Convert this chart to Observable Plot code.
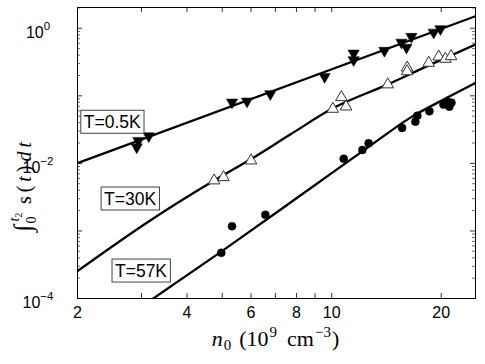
<!DOCTYPE html>
<html>
<head>
<meta charset="utf-8">
<script src="https://cdn.jsdelivr.net/npm/d3@7"></script>
<script src="https://cdn.jsdelivr.net/npm/@observablehq/plot@0.6"></script>
<style>
  html, body { margin: 0; padding: 0; background: #fff; }
  svg { display: block; }
</style>
</head>
<body>
<script>
// ---- data ----
const n0_05K = [2.91, 2.94, 3.14, 5.32, 5.85, 6.78, 9.56, 11.49, 11.49, 13.96, 15.55, 16.05, 16.56, 19.07, 19.9];
const s_05K  = [0.0174, 0.0217, 0.0254, 0.0802, 0.083, 0.1067, 0.192, 0.426, 0.340, 0.467, 0.618, 0.521, 0.752, 0.869, 0.977];

const n0_30K = [4.75, 5.04, 6.0, 10.07, 10.63, 10.95, 14.26, 16.12, 16.12, 18.48, 19.69, 20.54, 21.29];
const s_30K  = [0.00557, 0.00622, 0.0110, 0.0640, 0.0951, 0.0692, 0.147, 0.261, 0.230, 0.307, 0.380, 0.352, 0.384];

const n0_57K = [4.97, 5.32, 6.57, 10.79, 12.14, 12.63, 15.61, 16.98, 17.2, 18.56, 20.28, 20.8, 21.06, 21.34];
const s_57K  = [0.000474, 0.001175, 0.00173, 0.0117, 0.0158, 0.0198, 0.0335, 0.0415, 0.0509, 0.0590, 0.0741, 0.082, 0.0692, 0.0793];

// fitted curves
const fit05_x = [2, 24.85];
const fit05_y = [0.0101, 1.51];
const fit30_x = [2, 3.17, 4.75, 5.97, 7.69, 10.04, 14.32, 18.68, 24.85];
const fit30_y = [0.000255, 0.00143, 0.00557, 0.0114, 0.0267, 0.0647, 0.149, 0.290, 0.575];
const fit57_x = [3.23, 4.97, 7.84, 9.91, 12.77, 16.46, 20.54, 24.85];
const fit57_y = [0.0001, 0.000495, 0.00282, 0.00695, 0.0183, 0.0476, 0.0910, 0.155];

// labels
const seriesLabels = ["T=0.5K", "T=30K", "T=57K"];
const seriesLabelX = [2.50, 2.80, 3.00];
const seriesLabelY = [0.0406, 0.00297, 0.000255];

const xTickLabels = [2, 4, 6, 8, 10, 20];
const xTickAll = [2, 3, 4, 5, 6, 7, 8, 9, 10, 20];
const yTickLabelValues = [1, 1e-2, 1e-4];
const yTickLabelExp = ["0", "\u22122", "\u22124"];
const yMajor = [1e-4, 1e-3, 1e-2, 1e-1, 1];
const yMinor = [];
for (const d of [1e-4, 1e-3, 1e-2, 1e-1, 1]) for (const k of [2,3,4,5,6,7,8,9]) if (k*d <= 2.03) yMinor.push(k*d);

const zip = (xs, ys) => xs.map((x, i) => ({x, y: ys[i]}));

const W = 485, H = 364, mL = 77, mR = 10, mT = 7, mB = 66;
const innerW = W - mL - mR, innerH = H - mT - mB;

const svg = Plot.plot({
  width: W, height: H,
  marginLeft: mL, marginRight: mR, marginTop: mT, marginBottom: mB,
  style: {background: "#fff", color: "#000", fontFamily: "'Liberation Sans', Arial, sans-serif"},
  x: {type: "log", domain: [2, 24.85], axis: null},
  y: {type: "log", domain: [1e-4, 2.03], axis: null},
  marks: [
    // inward ticks
    Plot.tickX(xTickAll, {x: d => d, insetTop: innerH - 5, stroke: "#000", strokeWidth: 0.8}),
    Plot.tickX(xTickAll, {x: d => d, insetBottom: innerH - 5, stroke: "#000", strokeWidth: 0.8}),
    Plot.tickY(yMajor, {y: d => d, insetRight: innerW - 5, stroke: "#000", strokeWidth: 0.8}),
    Plot.tickY(yMajor, {y: d => d, insetLeft: innerW - 5, stroke: "#000", strokeWidth: 0.8}),
    Plot.tickY(yMinor, {y: d => d, insetRight: innerW - 3, stroke: "#000", strokeWidth: 0.6}),
    Plot.tickY(yMinor, {y: d => d, insetLeft: innerW - 3, stroke: "#000", strokeWidth: 0.6}),
    // x tick labels
    Plot.text(xTickLabels, {x: d => d, text: d => String(d), frameAnchor: "bottom", lineAnchor: "top", dy: 8, fontSize: 16, fill: "#000"}),
    // fitted lines
    Plot.line(zip(fit05_x, fit05_y), {x: "x", y: "y", stroke: "#000", strokeWidth: 2.3, clip: true}),
    Plot.line(zip(fit30_x, fit30_y), {x: "x", y: "y", stroke: "#000", strokeWidth: 2.3, curve: "monotone-x", clip: true}),
    Plot.line(zip(fit57_x, fit57_y), {x: "x", y: "y", stroke: "#000", strokeWidth: 2.3, curve: "monotone-x", clip: true}),
    // data points
    Plot.dot(zip(n0_05K, s_05K), {x: "x", y: "y", symbol: "triangle", rotate: 180, r: 4.2, fill: "#000", stroke: "#000", strokeWidth: 0.5}),
    Plot.dot(zip(n0_30K, s_30K), {x: "x", y: "y", symbol: "triangle", r: 4.3, fill: "#fff", stroke: "#333", strokeWidth: 1}),
    Plot.dot(zip(n0_57K, s_57K), {x: "x", y: "y", symbol: "circle", r: 4, fill: "#000", stroke: "#000", strokeWidth: 0.5}),
    Plot.frame({stroke: "#000", strokeWidth: 1})
  ]
});
document.body.append(svg);

const xs = svg.scale("x"), ys = svg.scale("y");
const root = d3.select(svg);

// y tick labels (10^n)
yTickLabelValues.forEach((v, i) => {
  const py = ys.apply(v);
  const t = root.append("text")
    .attr("x", 38).attr("y", py + 10)
    .attr("font-family", "'Liberation Sans', Arial, sans-serif")
    .attr("font-size", 16).attr("fill", "#000");
  t.append("tspan").text("10");
  t.append("tspan").attr("dy", -8).attr("font-size", 11.5).text(yTickLabelExp[i]);
});

// series labels with boxes
seriesLabels.forEach((s, i) => {
  const g = root.append("g");
  const cx = xs.apply(seriesLabelX[i]), cy = ys.apply(seriesLabelY[i]);
  const rect = g.append("rect");
  const t = g.append("text")
    .attr("x", cx).attr("y", cy).attr("dy", "0.36em")
    .attr("text-anchor", "middle")
    .attr("font-family", "'Liberation Sans', Arial, sans-serif")
    .attr("font-size", 17.5).attr("fill", "#000").text(s);
  const bb = t.node().getBBox();
  rect.attr("x", bb.x - 3).attr("y", cy - 11.5).attr("width", bb.width + 6).attr("height", 23)
    .attr("fill", "#fff").attr("stroke", "#444").attr("stroke-width", 1);
});

// x axis label: n0 (10^9 cm^-3)
const serif = "'Liberation Serif', 'DejaVu Serif', serif";
const xl = root.append("text")
  .attr("x", 275.5).attr("y", 346)
  .attr("text-anchor", "middle")
  .attr("font-family", serif)
  .attr("font-size", 22).attr("fill", "#000");
xl.append("tspan").attr("font-style", "italic").text("n");
xl.append("tspan").attr("dy", 4).attr("dx", 1).attr("font-size", 15).text("0");
xl.append("tspan").attr("dy", -4).attr("dx", 8).text("(10");
xl.append("tspan").attr("dy", -9).attr("dx", 1).attr("font-size", 15).text("9");
xl.append("tspan").attr("dy", 9).attr("dx", 10).text("cm");
xl.append("tspan").attr("dy", -9).attr("dx", 1).attr("font-size", 15).text("\u22123");
xl.append("tspan").attr("dy", 9).attr("dx", 1).text(")");

// y axis label: integral_0^{t_2} s(t) dt  (rotated, reads bottom to top)
const ylA = root.append("text")
  .attr("transform", "translate(31, 222) rotate(-90)")
  .attr("font-family", serif)
  .attr("font-size", 20).attr("fill", "#000");
ylA.append("tspan").attr("font-size", 25).text("\u222B");
ylA.append("tspan").attr("dy", 5).attr("dx", 1).attr("font-size", 14).text("0");
ylA.append("tspan").attr("dy", -17).attr("dx", -5).attr("font-size", 14).attr("font-style", "italic").text("t");
ylA.append("tspan").attr("dy", 3).attr("font-size", 10).text("2");

const ylB = root.append("text")
  .attr("transform", "translate(31, 173) rotate(-90)")
  .attr("font-family", serif)
  .attr("font-size", 20).attr("fill", "#000")
  .attr("textLength", 62).attr("lengthAdjust", "spacing");
ylB.append("tspan").text("s(");
ylB.append("tspan").attr("font-style", "italic").text("t");
ylB.append("tspan").text(")");
ylB.append("tspan").attr("font-style", "italic").text("dt");
</script>
</body>
</html>
